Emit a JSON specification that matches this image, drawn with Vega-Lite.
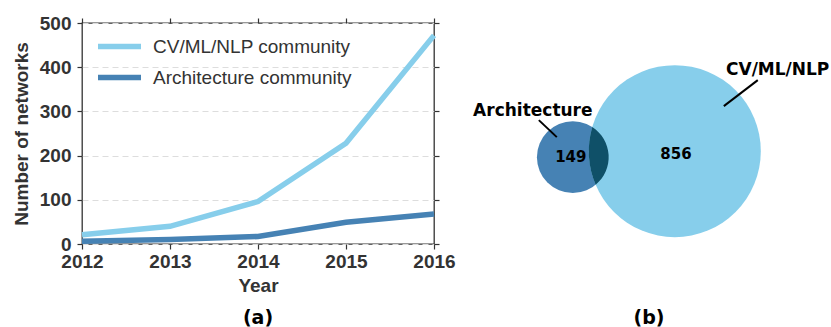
{
  "$schema": "https://vega.github.io/schema/vega-lite/v6.json",
  "padding": {"left": 11, "top": 13, "right": 0, "bottom": 0},
  "config": {"view": {"stroke": null}},
  "spacing": 17,
  "resolve": {"scale": {"color": "independent", "size": "independent", "x": "independent", "y": "independent"}},
  "hconcat": [
    {
      "width": 352,
      "height": 221,
      "view": {"stroke": "#333333", "strokeWidth": 1.3},
      "title": {"text": "(a)", "orient": "bottom", "font": "DejaVu Sans", "fontWeight": "bold", "fontSize": 19, "color": "#000000", "anchor": "middle", "offset": 29, "baseline": "alphabetic"},
      "data": {"values": [
        {"year": 2012, "community": "CV/ML/NLP community", "count": 21},
        {"year": 2013, "community": "CV/ML/NLP community", "count": 40},
        {"year": 2014, "community": "CV/ML/NLP community", "count": 96},
        {"year": 2015, "community": "CV/ML/NLP community", "count": 228},
        {"year": 2016, "community": "CV/ML/NLP community", "count": 472},
        {"year": 2012, "community": "Architecture community", "count": 6},
        {"year": 2013, "community": "Architecture community", "count": 10},
        {"year": 2014, "community": "Architecture community", "count": 17},
        {"year": 2015, "community": "Architecture community", "count": 49},
        {"year": 2016, "community": "Architecture community", "count": 68}
      ]},
      "layer": [
        {
          "mark": {"type": "line", "strokeWidth": 5.5},
          "encoding": {
            "x": {"field": "year", "type": "quantitative", "scale": {"domain": [2012, 2016], "nice": false, "zero": false},
              "axis": {"values": [2012, 2013, 2014, 2015, 2016], "format": "d", "title": "Year", "grid": false, "domain": false,
                "labelFont": "Liberation Sans", "labelFontSize": 19, "labelFontWeight": "bold", "labelColor": "#333333", "labelPadding": 3, "labelFlush": false,
                "titleFont": "Liberation Sans", "titleFontSize": 19, "titleFontWeight": "bold", "titleColor": "#333333", "titlePadding": 5,
                "tickSize": 5, "tickColor": "#333333", "tickWidth": 1.2}},
            "y": {"field": "count", "type": "quantitative", "scale": {"domain": [0, 500], "nice": false},
              "axis": {"values": [0, 100, 200, 300, 400, 500], "title": "Number of networks", "grid": true, "gridColor": "#dddddd", "gridDash": [6, 4], "gridWidth": 1, "domain": false,
                "labelFont": "Liberation Sans", "labelFontSize": 19, "labelFontWeight": "bold", "labelColor": "#333333", "labelPadding": 6,
                "titleFont": "Liberation Sans", "titleFontSize": 19, "titleFontWeight": "bold", "titleColor": "#333333", "titlePadding": 8,
                "tickSize": 5, "tickColor": "#333333", "tickWidth": 1.2}},
            "color": {"field": "community", "type": "nominal",
              "scale": {"domain": ["CV/ML/NLP community", "Architecture community"], "range": ["#87ceeb", "#4682b4"]},
              "legend": {"orient": "none", "legendX": 24, "legendY": 10, "title": null, "padding": 0,
                "symbolType": "M-2,0L2,0", "symbolSize": 462, "symbolStrokeWidth": 5.5, "labelOffset": 20, "labelLimit": 400,
                "labelFont": "Liberation Sans", "labelFontSize": 19, "labelColor": "#333333", "rowPadding": 6}}
          }
        },
        {
          "mark": {"type": "line", "opacity": 0},
          "encoding": {
            "x": {"field": "year", "type": "quantitative", "scale": {"domain": [2012, 2016], "nice": false, "zero": false},
              "axis": {"orient": "top", "values": [2012, 2013, 2014, 2015, 2016], "labels": false, "title": null, "grid": false, "domain": false, "tickSize": 5, "tickColor": "#333333", "tickWidth": 1.2}},
            "y": {"field": "count", "type": "quantitative", "scale": {"domain": [0, 500], "nice": false},
              "axis": {"orient": "right", "values": [0, 100, 200, 300, 400, 500], "labels": false, "title": null, "grid": false, "domain": false, "tickSize": 5, "tickColor": "#333333", "tickWidth": 1.2}},
            "detail": {"field": "community", "type": "nominal"}
          }
        }
      ],
      "resolve": {"axis": {"x": "independent", "y": "independent"}}
    },
    {
      "width": 344,
      "height": 221,
      "title": {"text": "(b)", "orient": "bottom", "font": "DejaVu Sans", "fontWeight": "bold", "fontSize": 19, "color": "#000000", "anchor": "middle", "offset": 80, "baseline": "alphabetic"},
      "layer": [
        {
          "data": {"values": [
            {"set": "Architecture", "n": 149, "x": -1.186, "y": -0.07},
            {"set": "CV/ML/NLP", "n": 856, "x": 0, "y": 0}
          ]},
          "mark": {"type": "point", "shape": "circle", "filled": true, "opacity": 1, "strokeWidth": 0},
          "encoding": {
            "x": {"field": "x", "type": "quantitative", "scale": {"domain": [-2.3, 1.7], "nice": false, "zero": false}, "axis": null},
            "y": {"field": "y", "type": "quantitative", "scale": {"domain": [-1.08, 1.49], "nice": false, "zero": false}, "axis": null},
            "size": {"field": "n", "type": "quantitative", "scale": {"domain": [0, 856], "range": [0, 29584], "zero": true}, "legend": null},
            "color": {"field": "set", "type": "nominal", "scale": {"domain": ["Architecture", "CV/ML/NLP"], "range": ["#4682b4", "#87ceeb"]}, "legend": null}
          }
        },
        {
          "data": {"values": [{"region": "Architecture ∩ CV/ML/NLP", "x": 0, "y": 0}]},
          "mark": {"type": "point", "shape": "M-0.95984,-0.28059A1,1,0,0,0,-0.92016,0.39155A0.41722,0.41722,0,0,0,-0.95984,-0.28059Z", "size": 29584, "filled": true, "opacity": 1, "strokeWidth": 0, "color": "#0f5068"},
          "encoding": {
            "x": {"field": "x", "type": "quantitative", "scale": {"domain": [-2.3, 1.7], "nice": false, "zero": false}, "axis": null},
            "y": {"field": "y", "type": "quantitative", "scale": {"domain": [-1.08, 1.49], "nice": false, "zero": false}, "axis": null}
          }
        },
        {
          "data": {"values": [
            {"label": "Architecture", "x": -1.581, "y": 0.3605, "x2": -1.372, "y2": 0.163},
            {"label": "CV/ML/NLP", "x": 0.965, "y": 0.826, "x2": 0.570, "y2": 0.523}
          ]},
          "mark": {"type": "rule", "color": "#000000", "strokeWidth": 2},
          "encoding": {
            "x": {"field": "x", "type": "quantitative", "scale": {"domain": [-2.3, 1.7], "nice": false, "zero": false}, "axis": null},
            "y": {"field": "y", "type": "quantitative", "scale": {"domain": [-1.08, 1.49], "nice": false, "zero": false}, "axis": null},
            "x2": {"field": "x2"},
            "y2": {"field": "y2"}
          }
        },
        {
          "data": {"values": [
            {"label": "Architecture", "x": -1.651, "y": 0.407},
            {"label": "CV/ML/NLP", "x": 1.196, "y": 0.8895}
          ]},
          "mark": {"type": "text", "font": "DejaVu Sans", "fontWeight": "bold", "fontSize": 17, "color": "#000000", "align": "center", "baseline": "alphabetic"},
          "encoding": {
            "x": {"field": "x", "type": "quantitative", "scale": {"domain": [-2.3, 1.7], "nice": false, "zero": false}, "axis": null},
            "y": {"field": "y", "type": "quantitative", "scale": {"domain": [-1.08, 1.49], "nice": false, "zero": false}, "axis": null},
            "text": {"field": "label"}
          }
        },
        {
          "data": {"values": [
            {"label": "149", "x": -1.209, "y": -0.131},
            {"label": "856", "x": 0.014, "y": -0.093}
          ]},
          "mark": {"type": "text", "font": "DejaVu Sans", "fontWeight": "bold", "fontSize": 15, "color": "#000000", "align": "center", "baseline": "alphabetic"},
          "encoding": {
            "x": {"field": "x", "type": "quantitative", "scale": {"domain": [-2.3, 1.7], "nice": false, "zero": false}, "axis": null},
            "y": {"field": "y", "type": "quantitative", "scale": {"domain": [-1.08, 1.49], "nice": false, "zero": false}, "axis": null},
            "text": {"field": "label"}
          }
        }
      ]
    }
  ]
}
